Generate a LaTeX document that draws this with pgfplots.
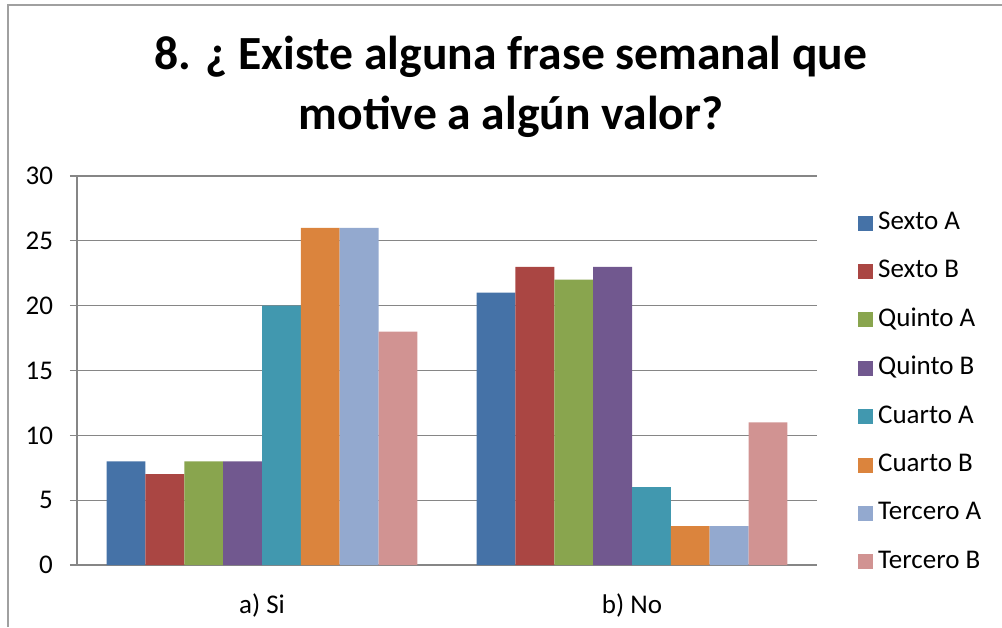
\documentclass[border=0pt]{standalone}
\usepackage{pgfplots}
\pgfplotsset{compat=1.18}
\usepackage{fontspec}
\setmainfont{Carlito}
\definecolor{c1}{HTML}{4572A7}
\definecolor{c2}{HTML}{AA4643}
\definecolor{c3}{HTML}{89A54E}
\definecolor{c4}{HTML}{71588F}
\definecolor{c5}{HTML}{4198AF}
\definecolor{c6}{HTML}{DB843D}
\definecolor{c7}{HTML}{93A9CF}
\definecolor{c8}{HTML}{D19392}
\definecolor{gridgray}{HTML}{868686}
\definecolor{bordergray}{HTML}{A0A0A0}
\begin{document}
\begin{tikzpicture}
\path[use as bounding box] (0,0) rectangle (501pt,313.5pt);
\draw[bordergray, line width=1pt] (4pt,0) -- (4pt,311pt) -- (501pt,311pt);
\node[anchor=base, font=\bfseries\fontsize{23.8}{30}\selectfont] at (255.5pt,278.5pt) {8. ¿ Existe alguna frase semanal que};
\node[anchor=base, font=\bfseries\fontsize{23.8}{30}\selectfont] at (255.5pt,248.5pt) {motive a algún valor?};
\begin{axis}[
  at={(38.5pt,31pt)}, anchor=south west,
  scale only axis, width=370pt, height=194.5pt,
  xmin=-0.5, xmax=1.5, ymin=0, ymax=30,
  ybar=0pt, bar width=0.105,
  axis x line=bottom, axis y line=left,
  axis line style={gridgray, line width=0.6pt, -},
  xtick={0,1}, xticklabels={a) Si, b) No},
  x tick style={draw=none},
  extra x ticks={-0.5,0.5,1.5}, extra x tick labels={},
  extra x tick style={major tick length=5pt, tick align=outside, tick style={gridgray, line width=0.6pt}, grid=none},
  ytick={0,5,...,30},
  y tick style={gridgray, line width=0.6pt},
  major tick length=3.5pt, tick align=outside,
  ymajorgrids, grid style={gridgray, line width=0.6pt},
  xticklabel style={anchor=base, yshift=-20.5pt},
  yticklabel style={xshift=-5pt},
  tick label style={font=\fontsize{13.5}{16}\selectfont},
  /pgf/number format/assume math mode=true,
  legend style={at={(1.047,0.92)}, anchor=north west, draw=none, fill=none,
    font=\fontsize{13.5}{16}\selectfont, row sep=12.7pt, column sep=2.5pt,
    nodes={inner sep=0pt, text height=9pt, text depth=2.5pt, anchor=west}},
  legend cell align=left,
  legend image code/.code={\fill[#1] (0pt,-3.75pt) rectangle (7.5pt,3.75pt);},
]
\addplot[fill=c1, draw=none] coordinates {(0,8) (1,21)};
\addplot[fill=c2, draw=none] coordinates {(0,7) (1,23)};
\addplot[fill=c3, draw=none] coordinates {(0,8) (1,22)};
\addplot[fill=c4, draw=none] coordinates {(0,8) (1,23)};
\addplot[fill=c5, draw=none] coordinates {(0,20) (1,6)};
\addplot[fill=c6, draw=none] coordinates {(0,26) (1,3)};
\addplot[fill=c7, draw=none] coordinates {(0,26) (1,3)};
\addplot[fill=c8, draw=none] coordinates {(0,18) (1,11)};
\legend{Sexto A, Sexto B, Quinto A, Quinto B, Cuarto A, Cuarto B, Tercero A, Tercero B}
\end{axis}
\end{tikzpicture}
\end{document}
